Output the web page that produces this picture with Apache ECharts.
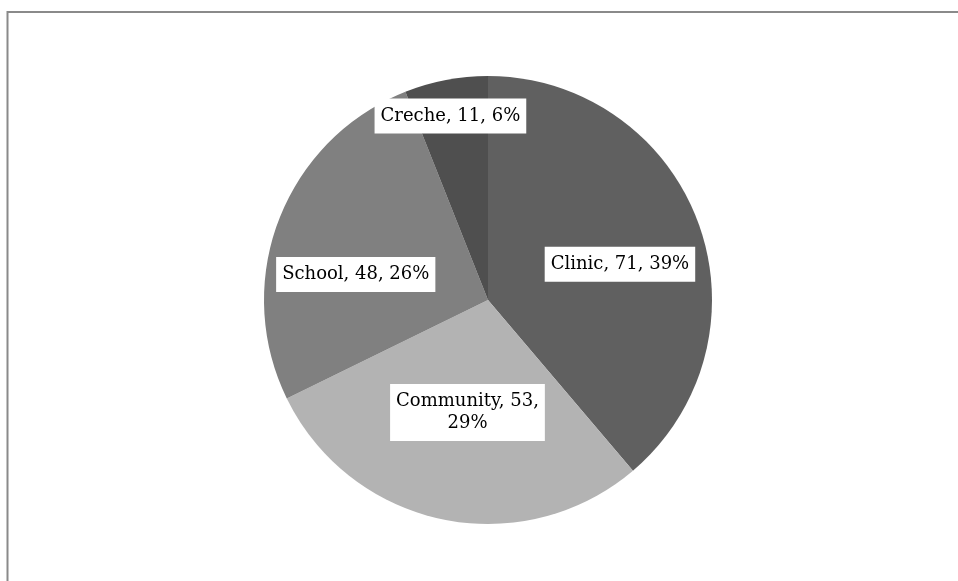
<!DOCTYPE html>
<html><head><meta charset="utf-8">
<script src="https://cdn.jsdelivr.net/npm/echarts@6/dist/echarts.min.js"></script>
<style>html,body{margin:0;padding:0;background:#fff}#c{width:958px;height:581px}</style>
</head><body><div id="c"></div>
<script>
const categories = ['Clinic', 'Community', 'School', 'Creche'];
const values = [71, 53, 48, 11];
const percents = ['39%', '29%', '26%', '6%'];
const colors = ['#606060', '#b3b3b3', '#808080', '#4f4f4f'];
const labelOffsets = [[24, 4], [3, 0], [-25, 16], [-16, -71]];

const chart = echarts.init(document.getElementById('c'));
chart.setOption({
  animation: false,
  backgroundColor: '#fff',
  graphic: [{
    type: 'rect', shape: { x: 7.5, y: 12, width: 1200, height: 1000 },
    style: { fill: 'none', stroke: '#8a8a8a', lineWidth: 2 }, silent: true
  }],
  series: [{
    type: 'pie',
    center: [488, 300],
    radius: 224,
    startAngle: 90,
    clockwise: true,
    avoidLabelOverlap: false,
    data: categories.map((c, i) => ({
      name: c, value: values[i],
      itemStyle: { color: colors[i] },
      label: { formatter: i === 1 ? c + ', ' + values[i] + ',\n' + percents[i] : c + ', ' + values[i] + ', ' + percents[i] }
    })),
    label: {
      show: true, position: 'inside',
      fontFamily: 'DejaVu Serif', fontSize: 18, color: '#000',
      backgroundColor: '#fff', padding: [7, 6, 6, 6], lineHeight: 22, align: 'center'
    },
    labelLine: { show: false },
    labelLayout: function (p) {
      const o = labelOffsets[p.dataIndex];
      return { dx: o[0], dy: o[1] };
    },
    emphasis: { disabled: true }
  }]
});
</script></body></html>
